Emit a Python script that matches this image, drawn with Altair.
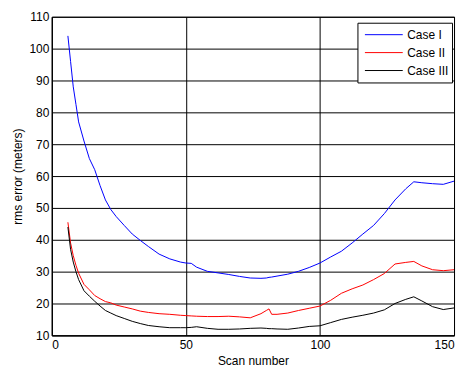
import altair as alt
import pandas as pd

scans = [6, 7, 8, 9, 10, 12, 14, 16, 18, 20, 22, 24, 27, 30, 33, 36, 40, 44, 48, 50,
         52, 54, 58, 62, 66, 70, 74, 78, 80, 81, 82, 84, 88, 92, 96, 100, 104, 108,
         112, 116, 120, 124, 128, 132, 135, 138, 142, 146, 150]

case1 = [104, 96, 88, 82.5, 77, 71, 65.5, 62, 57, 52.5, 49.5, 47.3, 44.5, 41.8, 39.8,
         37.9, 35.5, 34, 33, 32.7, 32.6, 31.4, 30.1, 29.6, 29.1, 28.5, 28.0, 27.9, 28.0,
         28.2, 28.3, 28.6, 29.2, 30.1, 31.3, 32.7, 34.6, 36.4, 39, 41.8, 44.5, 48.2, 52.5,
         56, 58.2, 57.9, 57.6, 57.4, 58.4]

case2 = [45.5, 39, 35, 32, 29.5, 26, 24.3, 22.5, 21.5, 20.6, 20.2, 19.5, 18.9, 18.3, 17.6,
         17.2, 16.8, 16.6, 16.3, 16.2, 16.1, 16.0, 15.9, 15.9, 16.0, 15.8, 15.5, 16.8, 17.8,
         18.3, 16.6, 16.6, 17.0, 17.8, 18.5, 19.2, 21, 23.2, 24.6, 25.8, 27.5, 29.4, 32.4,
         32.9, 33.2, 31.8, 30.6, 30.3, 30.6]

case3 = [44, 37, 33, 30, 27.5, 24, 22.3, 20.7, 19.2, 17.8, 17, 16.2, 15.3, 14.4, 13.7,
         13.1, 12.7, 12.4, 12.4, 12.4, 12.5, 12.7, 12.2, 11.9, 11.9, 12.0, 12.2, 12.3, 12.2,
         12.1, 12.1, 12.0, 11.9, 12.3, 12.8, 13.0, 14.0, 15.0, 15.7, 16.3, 17.0, 18.0, 20,
         21.3, 22.1, 20.8, 19.0, 18.1, 18.6]

series_names = ["Case I", "Case II", "Case III"]
series_colors = ["#0000ff", "#ff0000", "#000000"]
x_ticks = [0, 50, 100, 150]
y_ticks = [10, 20, 30, 40, 50, 60, 70, 80, 90, 100, 110]

rows = []
for name, vals in zip(series_names, [case1, case2, case3]):
    for s, v in zip(scans, vals):
        rows.append({"scan": s, "err": v, "case": name})
df = pd.DataFrame(rows)

FONT = "Liberation Sans"

chart = alt.Chart(df).mark_line(strokeWidth=1).encode(
    x=alt.X("scan:Q", scale=alt.Scale(domain=[0, 150], nice=False),
            axis=alt.Axis(values=x_ticks, title="Scan number", labelPadding=4,
                          titlePadding=5)),
    y=alt.Y("err:Q", scale=alt.Scale(domain=[10, 110], nice=False),
            axis=alt.Axis(values=y_ticks, title="rms error (meters)", labelPadding=3,
                          titlePadding=4)),
    color=alt.Color("case:N", scale=alt.Scale(domain=series_names, range=series_colors),
                    legend=alt.Legend(title=None, orient="none", legendX=307, legendY=6,
                                      symbolType="stroke", symbolSize=1444,
                                      symbolStrokeWidth=1, clipHeight=18, rowPadding=0,
                                      padding=3, symbolOffset=4, labelOffset=4,
                                      strokeColor="black", fillColor="white",
                                      labelFont=FONT, labelFontSize=12,
                                      labelColor="black")),
    order="scan:Q",
).properties(
    width=404, height=320,
    autosize=alt.AutoSizeParams(type="none"),
    padding={"left": 44, "top": 8, "right": 5, "bottom": 33},
).configure_view(
    stroke="black", strokeWidth=1
).configure_axis(
    grid=True, gridColor="black", gridOpacity=1, gridWidth=1,
    domainColor="black", domainWidth=1, ticks=False,
    labelFont=FONT, labelFontSize=12, labelColor="black",
    titleFont=FONT, titleFontSize=12, titleFontWeight="normal", titleColor="black",
)

chart.save("out.html", embed_options={"renderer": "svg", "actions": False})
